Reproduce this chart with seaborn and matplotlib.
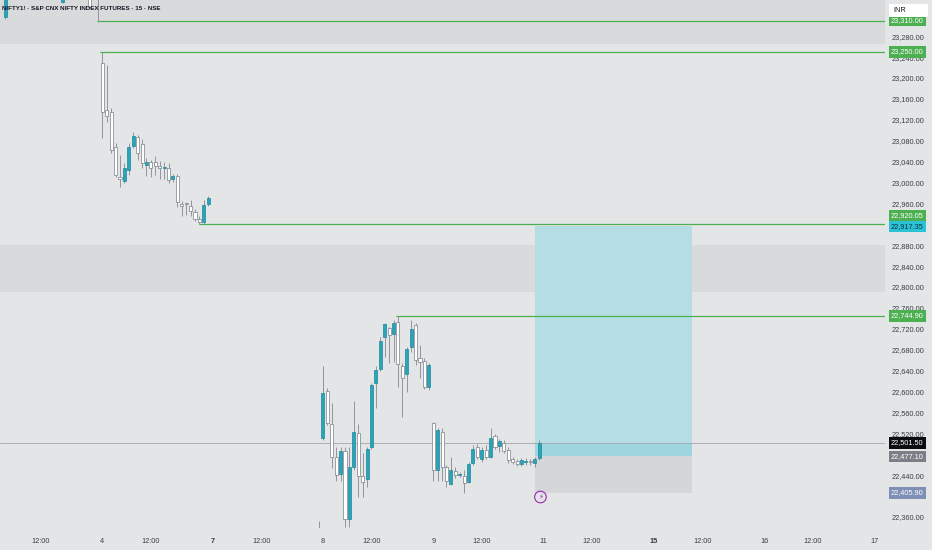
import numpy as np
import pandas as pd
import matplotlib
matplotlib.use("Agg")
import matplotlib.pyplot as plt
import matplotlib.transforms as mtransforms
from matplotlib.patches import Rectangle
import seaborn as sns

sns.set_theme(style="white")
plt.rcParams["font.family"] = ["Liberation Sans", "DejaVu Sans"]

# ---------------- data ----------------
TITLE = "NIFTY1! · S&P CNX NIFTY INDEX FUTURES · 15 · NSE"
BARS_PER_DAY = 25

# bar index: 0 = 4 Apr 09:15 (15-minute bars, 25 per session)
day3_bars = [-22, -9, -3, -1]
day3_open = [23317, 23346, 23362, 23360]
day3_high = [23375, 23372, 23370, 23362]
day3_low = [23312, 23343, 23334, 23310]
day3_close = [23362, 23370, 23336, 23352]

day7_bars = [49]
day7_open = [22310]
day7_high = [22352]
day7_low = [22300]
day7_close = [22330]

day4_open = [23229, 23139, 23135, 23068, 23011, 23002, 23024, 23069, 23088, 23074, 23033, 23040, 23039,
             23031, 23027, 23028, 23006, 23012, 22958, 22960, 22955, 22944, 22931, 22925, 22958]
day4_high = [23250, 23225, 23143, 23076, 23053, 23037, 23076, 23097, 23091, 23083, 23047, 23044, 23051,
             23042, 23040, 23037, 23017, 23016, 22965, 22962, 22966, 22950, 22935, 22966, 22975]
day4_low = [23085, 23116, 23056, 23010, 22992, 22999, 23014, 23066, 23043, 23028, 23012, 23010, 23014,
            23007, 23006, 22999, 23001, 22954, 22935, 22937, 22935, 22927, 22920.05, 22921, 22955]
day4_close = [23135, 23127, 23062, 23014, 23007, 23028, 23068, 23089, 23056, 23037, 23040, 23028, 23032,
              23028, 23029, 23004, 23013, 22963, 22956, 22958, 22946, 22931, 22924, 22957, 22970]

day8_open = [22511, 22602, 22538, 22475, 22442, 22487, 22357, 22455, 22520, 22438, 22432, 22493, 22616,
             22643, 22705, 22721, 22710, 22734, 22649, 22634, 22685, 22727, 22664, 22659, 22608]
day8_high = [22648, 22607, 22578, 22494, 22494, 22494, 22494, 22581, 22538, 22482, 22494, 22617, 22648,
             22705, 22732, 22724, 22736, 22744.9, 22654, 22686, 22737, 22731, 22689, 22665, 22655]
day8_low = [22507, 22536, 22454, 22428, 22428, 22341, 22341, 22450, 22399, 22399, 22418, 22491, 22568,
            22639, 22667, 22654, 22656, 22608, 22551, 22600, 22676, 22651, 22625, 22604, 22603]
day8_close = [22598, 22540, 22475, 22440, 22487, 22356, 22456, 22523, 22438, 22427, 22491, 22613, 22641,
              22697, 22729, 22708, 22732, 22653, 22625, 22681, 22719, 22660, 22657, 22608, 22651]

day9_open = [22540, 22450, 22522, 22455, 22424, 22448, 22441, 22438, 22427, 22463, 22493, 22470, 22489,
             22474, 22514, 22496, 22502, 22488, 22470, 22468, 22461, 22465, 22467, 22463, 22472]
day9_high = [22542, 22530, 22530, 22459, 22475, 22456, 22447, 22450, 22466, 22497, 22499, 22494, 22497,
             22530, 22519, 22510, 22508, 22494, 22475, 22471, 22472, 22472, 22471, 22475, 22508]
day9_low = [22428, 22428, 22428, 22417, 22421, 22434, 22436, 22405, 22425, 22459, 22470, 22466, 22471,
            22472, 22490, 22485, 22483, 22463, 22461, 22457, 22458, 22460, 22459, 22456, 22469]
day9_close = [22449, 22526, 22455, 22428, 22450, 22440, 22443, 22425, 22461, 22491, 22474, 22489, 22475,
              22512, 22494, 22506, 22487, 22469, 22466, 22461, 22469, 22467, 22465, 22470, 22501.5]

# horizontal levels (price, start bar)
level_prices = [23310.00, 23250.00, 22920.05, 22744.90]
level_starts = [-1.2, -0.5, 22, 66.6]

zone_top = [23400, 22880]
zone_bottom = [23266, 22790]

current_price = 22501.50
pos_entry = 22477.10
pos_target = 22917.35
pos_stop = 22405.90
pos_start_bar = 98
pos_end_bar = 133.7

xtick_pos = [-14, 0, 11, 25, 36, 50, 61, 75, 86, 100, 111, 125, 136, 150, 161, 175]
xtick_lab = ["12:00", "4", "12:00", "7", "12:00", "8", "12:00", "9", "12:00", "11", "12:00", "15",
             "12:00", "16", "12:00", "17"]
bold_labels = ["7", "15"]
# price-scale ticks that are not hidden behind the coloured price labels
ytick_vals = [22360, 22440, 22520, 22560, 22600, 22640, 22680, 22720, 22760, 22800, 22840, 22880,
              22960, 23000, 23040, 23080, 23120, 23160, 23200, 23240, 23280]

# ---------------- build frame ----------------
frames = []
frames.append(pd.DataFrame(dict(bar=day3_bars, o=day3_open, h=day3_high, l=day3_low, c=day3_close)))
frames.append(pd.DataFrame(dict(bar=np.arange(25) + 0 * BARS_PER_DAY, o=day4_open, h=day4_high, l=day4_low, c=day4_close)))
frames.append(pd.DataFrame(dict(bar=day7_bars, o=day7_open, h=day7_high, l=day7_low, c=day7_close)))
frames.append(pd.DataFrame(dict(bar=np.arange(25) + 2 * BARS_PER_DAY, o=day8_open, h=day8_high, l=day8_low, c=day8_close)))
frames.append(pd.DataFrame(dict(bar=np.arange(25) + 3 * BARS_PER_DAY, o=day9_open, h=day9_high, l=day9_low, c=day9_close)))
df = pd.concat(frames, ignore_index=True)

BG = "#e4e5e7"
W, H = 932, 550
fig = plt.figure(figsize=(W / 100, H / 100), dpi=100, facecolor=BG)
ax = fig.add_axes([0, 22 / H, 885 / W, 528 / H])
ax.set_facecolor(BG)
ax.set_xlim(-23.2, 177.4)
ax.set_ylim(22338.9, 23349.3)
for s in ax.spines.values():
    s.set_visible(False)

# zones
for top, bot in zip(zone_top, zone_bottom):
    ax.axhspan(bot, top, color="#d9dadc", lw=0, zorder=0)

# position tool
w = pos_end_bar - pos_start_bar
ax.add_patch(Rectangle((pos_start_bar, pos_entry), w, pos_target - pos_entry, fc="#b4dde4", ec="none", zorder=1))
ax.add_patch(Rectangle((pos_start_bar, pos_entry), w, current_price - pos_entry, fc="#9dd6de", ec="none", zorder=1.1))
ax.add_patch(Rectangle((pos_start_bar, pos_stop), w, pos_entry - pos_stop, fc="#d5d6da", ec="none", zorder=1))

# current price line
ax.axhline(current_price, color="#a3a6ad", lw=0.6, zorder=1.5)

# levels
for p, s0 in zip(level_prices, level_starts):
    ax.hlines(p, s0, 177.4, color="#4caf50", lw=0.9, zorder=2)

# candles
up = (df.c >= df.o).values
ax.vlines(df.bar, df.l, df.h, color="#858891", lw=0.6, zorder=3)
bottom = np.minimum(df.o, df.c)
height = np.maximum(np.abs(df.c - df.o), 1.5)
ax.bar(df.bar, height, bottom=bottom, width=0.7,
       color=np.where(up, "#28a4bb", "#ffffff"),
       edgecolor=np.where(up, "#1d8799", "#7b7e88"), linewidth=0.5, zorder=4)

# axes ticks
ax.set_xticks(xtick_pos)
ax.set_xticklabels(xtick_lab)
ax.yaxis.tick_right()
ax.set_yticks(ytick_vals)
ax.set_yticklabels([f"{v:,.2f}" for v in ytick_vals])
ax.tick_params(axis="x", length=0, pad=7, labelsize=5.3, labelcolor="#3b3e47")
ax.tick_params(axis="y", length=0, pad=5, labelsize=5.3, labelcolor="#3b3e47")
for t in ax.get_xticklabels():
    if t.get_text() in bold_labels:
        t.set_fontweight("bold")
ax.grid(False)

# price labels
blend = mtransforms.blended_transform_factory(ax.transAxes, ax.transData)
labels = [
    (23310.00, 0, "#4caf50", "white"),
    (23250.00, 0, "#4caf50", "white"),
    (22920.05, 9, "#4caf50", "white"),
    (22917.35, -1, "#2cc2d6", "#0d3347"),
    (22744.90, 0, "#4caf50", "white"),
    (22501.50, 0, "#0c0d10", "white"),
    (22477.10, -1, "#7b7e86", "white"),
    (22405.90, 0, "#7d8fb4", "white"),
]
for val, dy, fc, tc in labels:
    ax.annotate(f"{val:,.2f}", xy=(1.0, val), xycoords=blend, xytext=(6, dy),
                textcoords="offset pixels", ha="left", va="center", fontsize=5.3, color=tc,
                bbox=dict(boxstyle="square,pad=0.3", fc=fc, ec="none"),
                annotation_clip=False, zorder=10)

# INR box
fig.patches.append(Rectangle((889 / W, 1 - 17 / H), 39 / W, 13 / H, transform=fig.transFigure,
                             fc="white", ec="none", zorder=20))
fig.text(893 / W, 1 - 10.5 / H, "INR", fontsize=5.3, color="#131722", va="center", ha="left", zorder=21)

# title
fig.text(2 / W, 1 - 9 / H, TITLE, fontsize=4.5, fontweight="bold", color="#131722", va="center", ha="left", zorder=21)

# lightning event marker
bt = mtransforms.blended_transform_factory(ax.transData, ax.transAxes)
ax.scatter([99.3], [31 / 528], transform=bt, s=70, facecolors="none", edgecolors="#9c27b0",
           linewidths=0.8, zorder=6, clip_on=False)
ax.text(99.3, 31 / 528, "⚡", transform=bt, fontsize=5, color="#9c27b0", ha="center", va="center",
        family=["DejaVu Sans"], zorder=7)

fig.savefig("out.png", dpi=100, facecolor=BG)
